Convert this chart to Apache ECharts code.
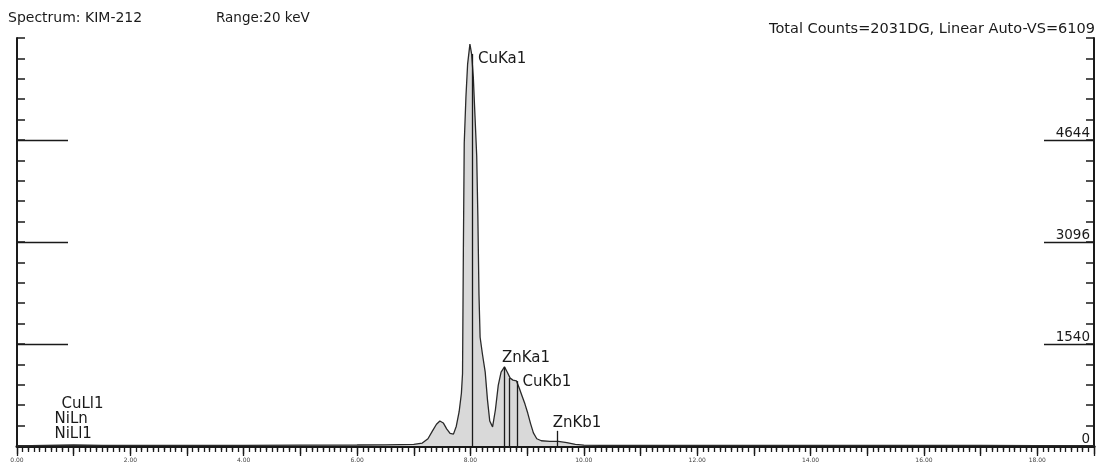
<!DOCTYPE html>
<html><head><meta charset="utf-8">
<script src="https://cdn.jsdelivr.net/npm/echarts@6/dist/echarts.min.js"></script>
<style>html,body{margin:0;padding:0;background:#fff}#c{width:1101px;height:465px}</style>
</head><body><div id="c"></div>
<script>
// ---- data ----
const spectrumKeV = [0, 0.5, 1.0, 1.5, 2.0, 3.0, 4.0, 5.0, 6.0, 6.5, 7.0, 7.15, 7.25, 7.33, 7.40, 7.46, 7.52, 7.58, 7.64, 7.70, 7.75, 7.80, 7.84, 7.86, 7.875, 7.89, 7.92, 7.95, 7.99, 8.02, 8.05, 8.08, 8.11, 8.13, 8.15, 8.17, 8.21, 8.26, 8.30, 8.34, 8.39, 8.44, 8.49, 8.54, 8.60, 8.65, 8.70, 8.75, 8.81, 8.86, 8.91, 8.96, 9.01, 9.06, 9.11, 9.17, 9.25, 9.40, 9.55, 9.70, 9.85, 10.0, 10.3, 11, 12, 13, 14, 15, 16, 17, 18, 19];
const spectrumCounts = [0, 10, 15, 10, 10, 10, 10, 12, 15, 18, 25, 45, 110, 230, 330, 380, 350, 260, 190, 180, 300, 520, 800, 1100, 3000, 4600, 5300, 5800, 6100, 5950, 5600, 5000, 4400, 3500, 2300, 1650, 1400, 1120, 700, 380, 290, 550, 920, 1120, 1200, 1120, 1030, 1000, 990, 880, 760, 640, 500, 340, 200, 110, 80, 70, 70, 50, 25, 12, 10, 8, 8, 8, 8, 8, 8, 8, 6, 5];

const xTickValues = [0, 2, 4, 6, 8, 10, 12, 14, 16, 18];
const xTickLabels = ['0.00', '2.00', '4.00', '6.00', '8.00', '10.00', '12.00', '14.00', '16.00', '18.00'];
const yTickValues = [0, 1540, 3096, 4644];
const yTickLabels = ['0', '1540', '3096', '4644'];
const yLongTickValues = [1540, 3096, 4644];
const yFullScale = 6192;
const xRangeKeV = 19;

const peakNames = ['CuKa1', 'ZnKa1', 'CuKb1', 'ZnKb1', 'CuLl1', 'NiLn', 'NiLl1'];
const peakKeV = [8.00, 8.60, 8.82, 9.53, 0.81, 0.76, 0.74];
const peakTop = [6100, 1200, 985, 230, 0, 0, 0];
const markerKeV = [8.03, 8.60, 8.69, 8.82, 9.53];
const markerTop = [5950, 1200, 1030, 985, 230];

// ---- layout (not data) ----
const labelOffsets = [[8, 16], [-2, -8], [6, 2], [-4, -7], [-1, -41], [-5, -26], [-4, -11]];
const FONT = 'DejaVu Sans';
const INK = '#1a1a1a';

const chart = echarts.init(document.getElementById('c'), null, {renderer: 'canvas'});

const baseY = {type: 'value', min: 0, max: yFullScale, splitLine: {show: false}};
const baseX = {type: 'value', min: 0, max: xRangeKeV, splitLine: {show: false}};

chart.setOption({
  animation: false,
  backgroundColor: '#fff',
  title: [
    {text: 'Spectrum: KIM-212', left: 8, top: 11, padding: 0,
     textStyle: {fontSize: 14, fontWeight: 'normal', color: INK, fontFamily: FONT}},
    {text: 'Range:20 keV', left: 216, top: 11, padding: 0,
     textStyle: {fontSize: 13.5, fontWeight: 'normal', color: INK, fontFamily: FONT}},
    {text: 'Total Counts=2031DG, Linear Auto-VS=6109', right: 6, top: 22, padding: 0,
     textStyle: {fontSize: 14.5, fontWeight: 'normal', color: INK, fontFamily: FONT}}
  ],
  grid: {left: 17, right: 7, top: 38, bottom: 19, outerBoundsMode: 'none'},
  xAxis: [
    Object.assign({}, baseX, {
      position: 'bottom', interval: 1,
      axisLine: {show: true, lineStyle: {color: INK, width: 2}},
      axisTick: {show: true, inside: false, length: 10, lineStyle: {color: INK, width: 1.3}},
      minorTick: {show: true, splitNumber: 10, length: 6, lineStyle: {color: INK, width: 1.3}},
      axisLabel: {show: true, customValues: xTickValues, margin: 11, fontSize: 6, color: '#444', fontFamily: FONT,
        formatter: v => { const i = xTickValues.indexOf(Math.round(v)); return i >= 0 ? xTickLabels[i] : ''; }}
    }),
    Object.assign({}, baseX, {
      position: 'top', interval: 1,
      axisLine: {show: true, lineStyle: {color: INK, width: 3}},
      axisTick: {show: true, inside: true, length: 8, lineStyle: {color: INK, width: 1.3}},
      minorTick: {show: true, splitNumber: 5, length: 4, lineStyle: {color: INK, width: 1.3}},
      axisLabel: {show: false}
    })
  ],
  yAxis: [
    Object.assign({}, baseY, {
      position: 'left', interval: yFullScale / 20,
      axisLine: {show: true, lineStyle: {color: INK, width: 2}},
      axisTick: {show: true, inside: true, length: 8, lineStyle: {color: INK, width: 1.5}},
      axisLabel: {show: false}
    }),
    Object.assign({}, baseY, {
      position: 'left',
      axisLine: {show: false},
      axisTick: {show: true, inside: true, length: 51, customValues: yLongTickValues, lineStyle: {color: INK, width: 1.3}},
      axisLabel: {show: false}
    }),
    Object.assign({}, baseY, {
      position: 'right', interval: yFullScale / 20,
      axisLine: {show: true, lineStyle: {color: INK, width: 2}},
      axisTick: {show: true, inside: true, length: 8, lineStyle: {color: INK, width: 1.5}},
      axisLabel: {show: false}
    }),
    Object.assign({}, baseY, {
      position: 'right',
      axisLine: {show: false},
      axisTick: {show: true, inside: true, length: 50, customValues: yLongTickValues, lineStyle: {color: INK, width: 1.3}},
      axisLabel: {show: true, inside: true, customValues: yTickValues, margin: 4, verticalAlign: 'bottom',
        showMinLabel: true, fontSize: 13.5, color: INK, fontFamily: FONT,
        formatter: v => { const i = yTickValues.indexOf(Math.round(v)); return i >= 0 ? yTickLabels[i] : ''; }}
    })
  ],
  series: [
    {
      type: 'line', xAxisIndex: 0, yAxisIndex: 0,
      data: spectrumKeV.map((k, i) => [k, spectrumCounts[i]]),
      showSymbol: false, symbol: 'none', smooth: false,
      lineStyle: {color: '#2a2a2a', width: 1.3},
      areaStyle: {color: '#d9d9d9', opacity: 1},
      markLine: {
        silent: true, symbol: 'none', label: {show: false},
        lineStyle: {color: INK, width: 1.3, type: 'solid'},
        data: markerKeV.map((k, i) => [{coord: [k, 0]}, {coord: [k, markerTop[i]]}])
      },
      z: 2
    },
    {
      type: 'scatter', xAxisIndex: 0, yAxisIndex: 0,
      symbolSize: 1, itemStyle: {color: 'rgba(0,0,0,0)', opacity: 1},
      data: peakKeV.map((k, i) => ({
        value: [k, peakTop[i]], name: peakNames[i],
        label: {position: labelOffsets[i]}
      })),
      label: {show: true, formatter: '{b}', align: 'left', verticalAlign: 'middle',
        fontSize: 15, color: INK, opacity: 1, fontFamily: FONT},
      z: 5
    }
  ]
});
</script>
</body></html>
